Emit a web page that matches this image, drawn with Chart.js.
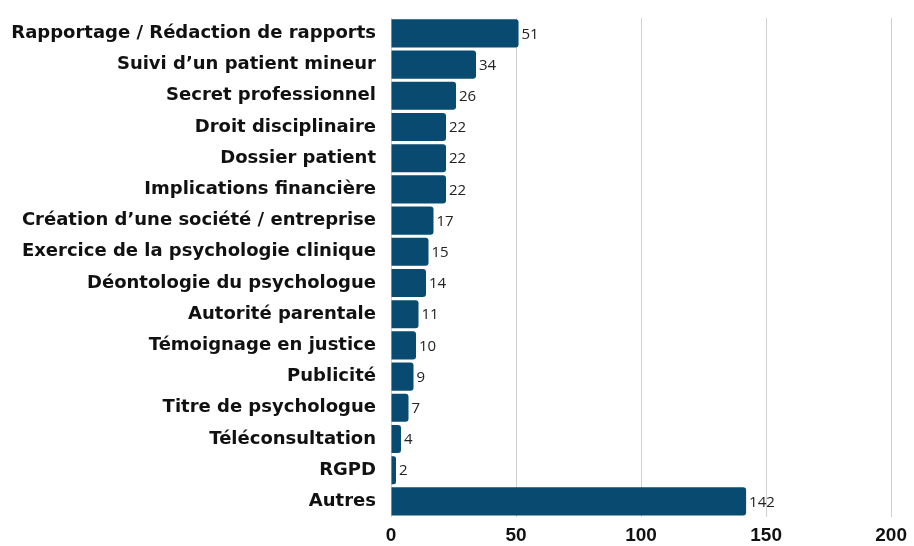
<!DOCTYPE html>
<html>
<head>
<meta charset="utf-8">
<script src="https://cdn.jsdelivr.net/npm/chart.js@4"></script>
<style>
  html, body { margin: 0; padding: 0; background: #fff; }
  #wrap { width: 914px; height: 546px; }
</style>
</head>
<body>
<div id="wrap"><canvas id="chart"></canvas></div>
<script>
const categories = [
    "Rapportage / Rédaction de rapports",
    "Suivi d’un patient mineur",
    "Secret professionnel",
    "Droit disciplinaire",
    "Dossier patient",
    "Implications financière",
    "Création d’une société / entreprise",
    "Exercice de la psychologie clinique",
    "Déontologie du psychologue",
    "Autorité parentale",
    "Témoignage en justice",
    "Publicité",
    "Titre de psychologue",
    "Téléconsultation",
    "RGPD",
    "Autres"
]
const counts = [51, 34, 26, 22, 22, 22, 17, 15, 14, 11, 10, 9, 7, 4, 2, 142]
const xTicks = [0, 50, 100, 150, 200]

// draws the count right after each bar
const valueLabels = {
    id: "valueLabels",
    afterDatasetsDraw(chart) {
        const ctx = chart.ctx
        const meta = chart.getDatasetMeta(0)
        ctx.save()
        ctx.font = "15px 'Open Sans'"
        ctx.fillStyle = "#222"
        ctx.textAlign = "left"
        ctx.textBaseline = "middle"
        meta.data.forEach((bar, i) => {
            ctx.fillText(counts[i], bar.x + 3, bar.y + 1)
        })
        ctx.restore()
    }
}

new Chart(document.querySelector("#chart"), {
    type: "bar",
    data: {
        labels: categories,
        datasets: [{
            data: counts,
            backgroundColor: "#094b70",
            borderRadius: 3,
            borderSkipped: "start",
            barPercentage: 0.9,
            categoryPercentage: 1
        }]
    },
    options: {
        indexAxis: "y",
        responsive: true,
        maintainAspectRatio: false,
        animation: false,
        layout: { padding: { top: 1, right: 19, bottom: 0, left: 0 } },
        plugins: {
            legend: { display: false },
            tooltip: { enabled: false }
        },
        scales: {
            x: {
                min: 0,
                max: 200,
                afterBuildTicks: (axis) => { axis.ticks = xTicks.map(v => ({ value: v })) },
                afterFit: (axis) => { axis.height = 29 },
                grid: { color: "#d0d0d0", lineWidth: 1, drawTicks: false },
                border: { display: false },
                ticks: {
                    color: "#111",
                    padding: 7,
                    font: { family: "Liberation Sans", weight: "bold", size: 19 }
                }
            },
            y: {
                afterFit: (axis) => { axis.width = 391 },
                grid: { display: false },
                border: { display: false },
                ticks: {
                    color: "#111",
                    padding: 7,
                    autoSkip: false,
                    font: { family: "DejaVu Sans", weight: "bold", size: 18 }
                }
            }
        }
    },
    plugins: [valueLabels]
})
</script>
</body>
</html>
